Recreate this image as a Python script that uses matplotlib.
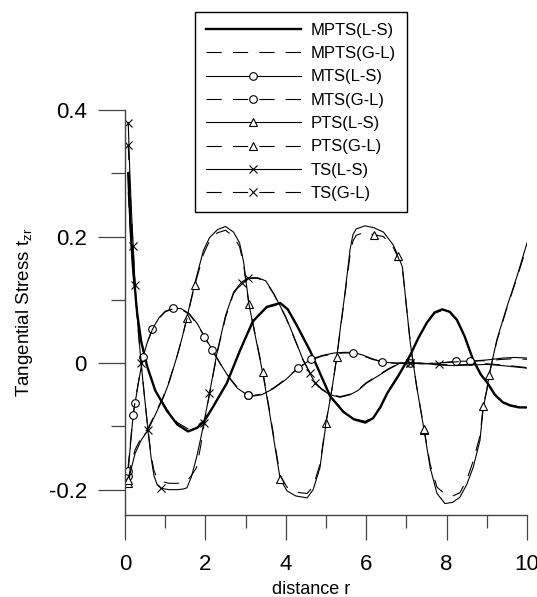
import matplotlib
matplotlib.use("Agg")
import matplotlib.pyplot as plt
from matplotlib.ticker import MultipleLocator

plt.rcParams['font.family'] = ['Liberation Sans', 'DejaVu Sans']
plt.rcParams['lines.scale_dashes'] = False

# ---- data ----
mpts_x = [0.08, 0.15, 0.2, 0.3, 0.4, 0.55, 0.75, 1.04, 1.3, 1.57,
          1.8, 1.97, 2.2, 2.53, 2.86, 3.18, 3.53, 3.86, 4.05, 4.27,
          4.6, 4.85, 5.1, 5.43, 5.7, 5.98, 6.17, 6.35, 6.52, 6.8,
          7.09, 7.3, 7.51, 7.7, 7.89, 8.08, 8.26, 8.45, 8.66, 8.85,
          9.0, 9.2, 9.4, 9.58, 9.8, 10.0]
mpts_ls = [0.3, 0.2, 0.15, 0.08, 0.035, -0.005, -0.043, -0.075, -0.097, -0.108,
           -0.102, -0.092, -0.068, -0.032, 0.02, 0.066, 0.089, 0.095, 0.085, 0.06,
           0.02, -0.016, -0.052, -0.077, -0.089, -0.094, -0.087, -0.07, -0.048, -0.02,
           0.012, 0.04, 0.064, 0.08, 0.085, 0.081, 0.068, 0.042, 0.005, -0.018,
           -0.03, -0.05, -0.062, -0.067, -0.07, -0.07]
mpts_gl = [0.27, 0.19, 0.145, 0.078, 0.034, -0.005, -0.042, -0.073, -0.094, -0.104,
           -0.099, -0.09, -0.067, -0.031, 0.02, 0.065, 0.088, 0.093, 0.084, 0.059,
           0.02, -0.016, -0.051, -0.076, -0.088, -0.092, -0.085, -0.069, -0.047, -0.019,
           0.012, 0.04, 0.063, 0.079, 0.083, 0.08, 0.067, 0.041, 0.005, -0.017,
           -0.029, -0.049, -0.061, -0.066, -0.069, -0.069]

mts_x = [0.07, 0.12, 0.2, 0.25, 0.35, 0.45, 0.55, 0.68, 0.85, 1.0,
         1.2, 1.4, 1.6, 1.8, 1.97, 2.17, 2.4, 2.6, 2.8, 3.06,
         3.2, 3.4, 3.7, 4.0, 4.3, 4.63, 4.9, 5.2, 5.45, 5.67,
         5.9, 6.15, 6.4, 6.7, 7.09, 7.4, 7.8, 8.23, 8.58, 9.0,
         9.4, 9.7, 10.0]
mts_ls = [-0.178, -0.14, -0.084, -0.063, -0.025, 0.01, 0.032, 0.054, 0.072, 0.082,
          0.087, 0.086, 0.078, 0.062, 0.043, 0.021, -0.004, -0.024, -0.04, -0.051,
          -0.052, -0.05, -0.04, -0.026, -0.008, 0.006, 0.012, 0.016, 0.017, 0.017,
          0.013, 0.007, 0.002, 0.0, 0.0, -0.001, 0.0, 0.003, 0.003, 0.005,
          0.008, 0.009, 0.008]
mts_gl = [-0.17, -0.135, -0.082, -0.061, -0.024, 0.01, 0.032, 0.053, 0.071, 0.081,
          0.086, 0.085, 0.077, 0.061, 0.042, 0.02, -0.004, -0.023, -0.039, -0.05,
          -0.051, -0.049, -0.039, -0.025, -0.008, 0.005, 0.011, 0.015, 0.016, 0.016,
          0.012, 0.006, 0.002, 0.0, 0.0, -0.001, 0.0, 0.002, 0.003, 0.004,
          0.006, 0.007, 0.006]

pts_x = [0.08, 0.15, 0.25, 0.4, 0.57, 0.75, 0.95, 1.1, 1.29, 1.42,
         1.54, 1.64, 1.74, 1.95, 2.1, 2.3, 2.5, 2.7, 2.85, 2.95,
         3.08, 3.25, 3.43, 3.6, 3.75, 3.86, 4.03, 4.25, 4.53, 4.68,
         4.85, 5.0, 5.15, 5.27, 5.35, 5.45, 5.6, 5.67, 5.75, 5.97,
         6.19, 6.43, 6.67, 6.79, 6.9, 7.0, 7.1, 7.25, 7.44, 7.59,
         7.76, 7.96, 8.15, 8.33, 8.5, 8.66, 8.83, 8.91, 9.0, 9.06,
         9.25, 9.5, 9.75, 10.0]
pts_ls = [-0.19, -0.168, -0.143, -0.122, -0.106, -0.082, -0.055, -0.03, 0.01, 0.04,
          0.072, 0.1, 0.127, 0.178, 0.198, 0.211, 0.216, 0.207, 0.19, 0.16,
          0.094, 0.04, -0.017, -0.08, -0.14, -0.183, -0.202, -0.21, -0.213, -0.2,
          -0.165, -0.095, -0.04, 0.011, 0.052, 0.1, 0.18, 0.203, 0.212, 0.217,
          0.214, 0.207, 0.187, 0.17, 0.152, 0.09, 0.03, -0.035, -0.106, -0.165,
          -0.206, -0.222, -0.22, -0.212, -0.192, -0.165, -0.122, -0.071, -0.043, -0.018,
          0.037, 0.089, 0.137, 0.19]
pts_gl = [-0.185, -0.16, -0.137, -0.118, -0.103, -0.08, -0.053, -0.028, 0.01, 0.04,
          0.07, 0.098, 0.124, 0.172, 0.193, 0.206, 0.21, 0.2, 0.184, 0.156,
          0.094, 0.042, -0.014, -0.077, -0.136, -0.178, -0.196, -0.204, -0.206, -0.195,
          -0.16, -0.093, -0.04, 0.01, 0.05, 0.098, 0.172, 0.193, 0.202, 0.207,
          0.203, 0.2, 0.183, 0.168, 0.15, 0.09, 0.03, -0.035, -0.104, -0.16,
          -0.196, -0.207, -0.21, -0.205, -0.185, -0.155, -0.115, -0.068, -0.042, -0.018,
          0.035, 0.087, 0.135, 0.185]

ts_x = [0.08, 0.12, 0.16, 0.2, 0.25, 0.32, 0.4, 0.48, 0.57, 0.65,
        0.72, 0.8, 0.9, 1.1, 1.3, 1.45, 1.54, 1.65, 1.78, 1.88,
        1.97, 2.1, 2.3, 2.5, 2.7, 2.9, 3.07, 3.3, 3.5, 3.7,
        4.0, 4.2, 4.43, 4.6, 4.73, 4.9, 5.1, 5.35, 5.6, 5.8,
        6.0, 6.3, 6.55, 6.84, 7.1, 7.4, 7.8, 8.2, 8.6, 9.0,
        9.4, 9.7, 10.0]
ts_ls = [0.38, 0.3, 0.24, 0.19, 0.124, 0.06, 0.0, -0.05, -0.106, -0.15,
         -0.178, -0.192, -0.198, -0.2, -0.2, -0.199, -0.197, -0.18, -0.149, -0.12,
         -0.092, -0.048, 0.02, 0.075, 0.112, 0.128, 0.135, 0.135, 0.13, 0.11,
         0.073, 0.042, 0.005, -0.016, -0.032, -0.042, -0.05, -0.054, -0.05, -0.043,
         -0.032, -0.02, -0.01, 0.0, 0.0, 0.0, -0.003, -0.004, -0.003, -0.002,
         -0.004, -0.006, -0.008]
ts_gl = [0.345, 0.28, 0.23, 0.185, 0.122, 0.058, 0.0, -0.05, -0.104, -0.146,
         -0.17, -0.182, -0.187, -0.19, -0.19, -0.189, -0.186, -0.178, -0.165, -0.132,
         -0.095, -0.05, 0.018, 0.072, 0.11, 0.127, 0.134, 0.134, 0.129, 0.109,
         0.072, 0.041, 0.005, -0.015, -0.031, -0.041, -0.049, -0.053, -0.049, -0.042,
         -0.031, -0.019, -0.009, 0.0, 0.0, 0.0, -0.002, -0.003, -0.002, -0.001,
         -0.003, -0.005, -0.007]

# where the symbols sit along each curve
mts_marks_ls = [0.07, 0.25, 0.68, 1.2, 2.17, 3.06, 4.63, 6.4, 8.23]
mts_marks_gl = [0.07, 0.2, 0.45, 1.97, 3.06, 4.3, 5.67, 7.09, 8.58]
pts_marks_ls = [0.08, 1.54, 3.08, 3.86, 5.0, 6.79, 7.44, 9.06]
pts_marks_gl = [0.08, 1.74, 3.43, 5.27, 6.19, 7.44, 8.91]
ts_marks_ls = [0.08, 0.25, 0.57, 0.9, 2.1, 3.07, 4.73, 7.1]
ts_marks_gl = [0.08, 0.2, 0.4, 1.97, 2.9, 4.6, 7.1, 7.8]

yticks = [-0.2, 0, 0.2, 0.4]
ylabels = ['-0.2', '0', '0.2', '0.4']
xticks = [0, 2, 4, 6, 8, 10]
xlabels = ['0', '2', '4', '6', '8', '10']


def idx(xs, marks):
    return [xs.index(m) for m in marks]


fig = plt.figure(figsize=(5.37, 5.97), dpi=100)
ax = fig.add_axes([0.2328, 0.1374, 0.7486, 0.6783])

dash = (0, (11, 8))
thin = 0.8
mk = dict(mfc='white', mec='black', mew=0.8, ms=5.5)

ax.plot(mpts_x, mpts_ls, color='black', lw=1.7, label='MPTS(L-S)')
ax.plot(mpts_x, mpts_gl, color='black', lw=thin, ls=dash, label='MPTS(G-L)')
ax.plot(mts_x, mts_ls, color='black', lw=thin, marker='o',
        markevery=idx(mts_x, mts_marks_ls), label='MTS(L-S)', **mk)
ax.plot(mts_x, mts_gl, color='black', lw=thin, ls=dash, marker='o',
        markevery=idx(mts_x, mts_marks_gl), label='MTS(G-L)', **mk)
ax.plot(pts_x, pts_ls, color='black', lw=thin, marker='^',
        markevery=idx(pts_x, pts_marks_ls), label='PTS(L-S)', **mk)
ax.plot(pts_x, pts_gl, color='black', lw=thin, ls=dash, marker='^',
        markevery=idx(pts_x, pts_marks_gl), label='PTS(G-L)', **mk)
ax.plot(ts_x, ts_ls, color='black', lw=thin, marker='x',
        markevery=idx(ts_x, ts_marks_ls), label='TS(L-S)', **mk)
ax.plot(ts_x, ts_gl, color='black', lw=thin, ls=dash, marker='x',
        markevery=idx(ts_x, ts_marks_gl), label='TS(G-L)', **mk)

ax.set_xlim(0, 10)
ax.set_ylim(-0.24, 0.4)
ax.set_xticks(xticks, xlabels)
ax.set_yticks(yticks, ylabels)
ax.xaxis.set_minor_locator(MultipleLocator(1))
ax.yaxis.set_minor_locator(MultipleLocator(0.1))

for s in ['top', 'right']:
    ax.spines[s].set_visible(False)
for s in ['left', 'bottom']:
    ax.spines[s].set_color('#444444')
    ax.spines[s].set_linewidth(1.0)

ax.tick_params(which='both', direction='out', color='#444444', width=0.9)
ax.tick_params(axis='x', which='major', length=18, labelsize=16, pad=10)
ax.tick_params(axis='y', which='major', length=19.5, labelsize=16, pad=8)
ax.tick_params(axis='x', which='minor', length=9.5)
ax.tick_params(axis='y', which='minor', length=10)

ax.set_xlabel('distance r', fontsize=13)
ax.xaxis.set_label_coords(0.463, -0.163)
ax.set_ylabel('Tangential Stress t$_{\\mathregular{zr}}$', fontsize=13.5)
ax.yaxis.set_label_coords(-0.225, 0.5)

leg = fig.legend(loc='upper left', bbox_to_anchor=(195 / 537, 1 - 12 / 597),
                 borderaxespad=0, frameon=True, fancybox=False, edgecolor='black',
                 framealpha=1, fontsize=12, handlelength=5.7, handletextpad=0.6,
                 labelspacing=0.5, borderpad=0.65, numpoints=1)
leg.get_frame().set_linewidth(1.0)

fig.savefig('out.png', dpi=100)
